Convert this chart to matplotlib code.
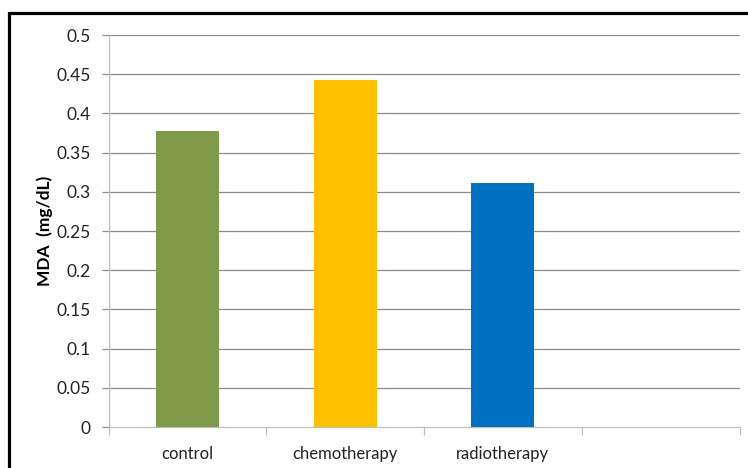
import matplotlib.pyplot as plt
from matplotlib.patches import Rectangle

# data
groups = ['control', 'chemotherapy', 'radiotherapy', '']
mda = [0.378, 0.442, 0.311, 0.0]
bar_colors = ['#7F9A48', '#FFC000', '#0070C0', 'none']
y_ticks = [0, 0.05, 0.1, 0.15, 0.2, 0.25, 0.3, 0.35, 0.4, 0.45, 0.5]
y_labels = ['0', '0.05', '0.1', '0.15', '0.2', '0.25', '0.3', '0.35', '0.4', '0.45', '0.5']

plt.rcParams['font.family'] = ['Lato', 'DejaVu Sans']

W, H = 748, 468
fig = plt.figure(figsize=(W / 100, H / 100), dpi=100)
ax = fig.add_axes([108.5 / W, 41 / H, (739.5 - 108.5) / W, 392 / H])

x = list(range(len(groups)))
ax.bar(x[:3], mda[:3], width=0.4, color=bar_colors[:3], zorder=3)

ax.set_xlim(-0.5, 3.5)
ax.set_ylim(0, 0.5)

# gridlines
for yv in y_ticks[1:]:
    ax.axhline(yv, color='#8C8C8C', lw=0.9, zorder=1)

ax.set_yticks(y_ticks)
ax.set_yticklabels(y_labels, fontsize=12.5, color='#222222')
ax.tick_params(axis='y', length=5, width=0.9, color='#8C8C8C', pad=8)

# category labels centred in slots, ticks on boundaries
ax.set_xticks([i - 0.5 for i in range(5)])
ax.set_xticklabels([])
ax.tick_params(axis='x', length=6, width=0.9, color='#BFBFBF', direction='out')
for i, g in enumerate(groups):
    ax.text(i, -0.024, g, ha='center', va='top', fontsize=12, color='#222222')

for side in ['top', 'right']:
    ax.spines[side].set_visible(False)
ax.spines['left'].set_color('#BFBFBF')
ax.spines['bottom'].set_color('#BFBFBF')
ax.spines['left'].set_linewidth(0.9)
ax.spines['bottom'].set_linewidth(0.9)

ax.set_ylabel('MDA  (mg/dL)', fontsize=12.5, fontweight='bold', labelpad=2)

# outer frame of the original (partly cut off)
frame = Rectangle((8.5 / W, -0.1), 1.0, (H - 13.5) / H + 0.1, transform=fig.transFigure,
                  fill=False, edgecolor='black', lw=2.3, clip_on=False)
fig.patches.append(frame)

fig.savefig('out.png', dpi=100)
